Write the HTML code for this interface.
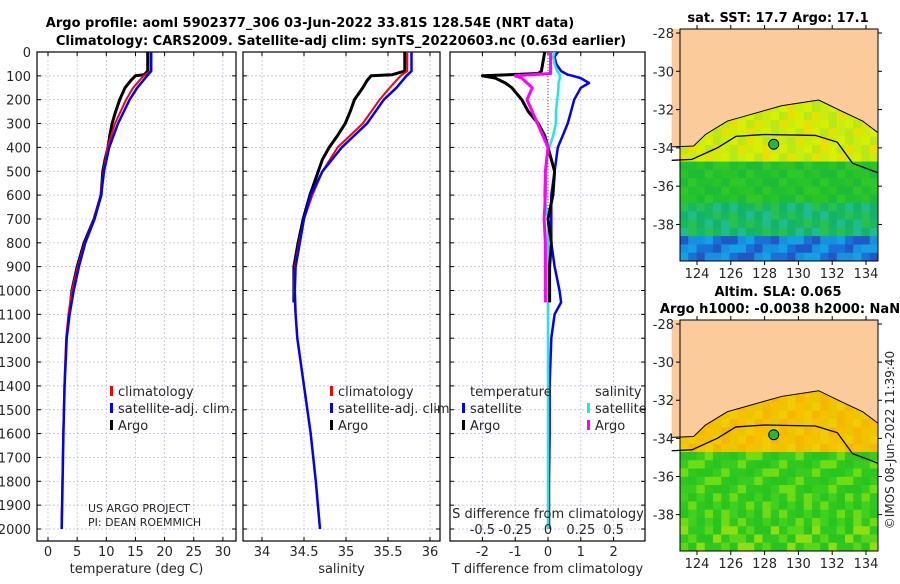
<!DOCTYPE html>
<html><head><meta charset="utf-8"><style>
body{margin:0;background:#fff;width:900px;height:580px;overflow:hidden;font-family:"DejaVu Sans","Liberation Sans",sans-serif}
svg text{font-family:"DejaVu Sans","Liberation Sans",sans-serif;fill:#262626}
</style></head><body>
<svg id="fig" width="900" height="580" xmlns="http://www.w3.org/2000/svg">
<text x="310" y="27" text-anchor="middle" font-size="13" font-weight="bold" style="fill:#000">Argo profile: aoml 5902377_306 03-Jun-2022 33.81S 128.54E (NRT data)</text>
<text x="341" y="45" text-anchor="middle" font-size="13" font-weight="bold" style="fill:#000">Climatology: CARS2009. Satellite-adj clim: synTS_20220603.nc (0.63d earlier)</text>
<g id="p1"></g>
<g id="p2"></g>
<g id="p3"></g>
<g id="m1"></g>
<g id="m2"></g>
<text x="778" y="22" text-anchor="middle" font-size="13" font-weight="bold" style="fill:#000">sat. SST: 17.7 Argo: 17.1</text>
<text x="778" y="296" text-anchor="middle" font-size="13" font-weight="bold" style="fill:#000">Altim. SLA: 0.065</text>
<text x="780" y="313" text-anchor="middle" font-size="13" font-weight="bold" style="fill:#000">Argo h1000: -0.0038 h2000: NaN</text>
<text transform="translate(894,440) rotate(-90)" text-anchor="middle" font-size="12">©IMOS 08-Jun-2022 11:39:40</text>
</svg>
<script>
// ---- data ----
const depthArgo=[0,80,95,100,120,150,200,250,300,350,400,450,500,600,700,800,900,1000,1050];
const tArgo=[17.1,17.1,16.5,15.0,14.2,13.2,12.3,11.6,11.0,10.6,10.3,9.8,9.4,9.1,7.9,6.2,5.0,4.1,3.9];
const sArgo=[35.7,35.7,35.55,35.3,35.25,35.2,35.1,35.05,34.99,34.9,34.8,34.72,34.67,34.57,34.49,34.43,34.38,34.38,34.38];
const depthClim=[0,80,100,150,200,300,400,500,600,700,800,900,1000,1100,1200,1400,1600,1800,2000];
const tClim=[17.6,17.6,16.4,14.6,13.4,11.5,10.2,9.5,9.0,7.9,6.3,5.1,4.1,3.5,3.1,2.8,2.6,2.45,2.3];
const sClim=[35.73,35.73,35.65,35.52,35.4,35.2,34.9,34.72,34.6,34.5,34.44,34.39,34.38,34.4,34.42,34.5,34.58,34.64,34.69];
const tSat=[17.7,17.7,17.0,15.3,14.0,12.0,10.5,9.6,9.1,8.0,6.4,5.3,4.4,3.7,3.2,2.85,2.65,2.5,2.35];
const sSat=[35.78,35.78,35.72,35.6,35.45,35.25,34.95,34.72,34.58,34.5,34.45,34.4,34.39,34.4,34.42,34.5,34.58,34.64,34.69];
const depthDiff=[0,20,50,80,95,100,110,130,150,200,250,300,350,400,450,500,600,700,800,900,1000,1050,1100,1200,1400,1600,1800,2000];
const dTSat=[0.3,0.2,0.25,0.4,0.6,0.75,1.0,1.25,1.0,0.8,0.7,0.6,0.45,0.3,0.25,0.2,0.1,0.1,0.1,0.2,0.35,0.4,0.2,0.1,0.05,0.05,0.03,0.03];
const dSSat=[0.05,0.04,0.05,0.07,0.09,0.09,0.09,0.08,0.08,0.07,0.06,0.06,0.04,0.01,-0.01,-0.02,-0.03,0,0,0,0,0,0,0,0,0,0,0];
const depthArgoDiff=[0,80,90,100,110,130,150,200,250,300,350,400,450,500,600,700,800,900,1000,1050];
const dTArgo=[-0.1,-0.2,-0.3,-2.0,-1.6,-1.3,-1.1,-0.8,-0.6,-0.3,-0.1,0,0.1,0.2,0.15,0,0.1,0.05,0.05,0.05];
const dSArgo=[0.02,0.02,0.02,-0.25,-0.2,-0.16,-0.12,-0.16,-0.12,-0.08,-0.04,0,-0.01,-0.02,-0.02,-0.03,-0.02,-0.02,-0.02,-0.02];
const depthTicks=[0,100,200,300,400,500,600,700,800,900,1000,1100,1200,1300,1400,1500,1600,1700,1800,1900,2000];
const tTicks=[0,5,10,15,20,25,30];
const sTicks=[34,34.5,35,35.5,36];
const dTTicks=[-2,-1,0,1,2];
const dSTicks=[-0.5,-0.25,0,0.25,0.5];
const latTicks=[-28,-30,-32,-34,-36,-38];
const lonTicks=[124,126,128,130,132,134];

const NS='http://www.w3.org/2000/svg';
function mk(parent,tag,attrs,txt){const e=document.createElementNS(NS,tag);for(const k in attrs)e.setAttribute(k,attrs[k]);if(txt!==undefined)e.textContent=txt;parent.appendChild(e);return e;}
const Y0=52,Y1=541;
const yD=d=>Y0+d*0.2385;
function panel(g,x0,x1,xs,xt,xlabels,xtitle,showY){
  mk(g,'rect',{x:x0,y:Y0,width:x1-x0,height:Y1-Y0,fill:'#fff'});
  depthTicks.forEach(d=>{const l=mk(g,'line',{x1:x0,x2:x1,y1:yD(d),y2:yD(d),stroke:'#b8b8e0','stroke-width':0.7,'stroke-dasharray':'2,2'});
    
    mk(g,'line',{x1:x0,x2:x0+4,y1:yD(d),y2:yD(d),stroke:'#000'});mk(g,'line',{x1:x1-4,x2:x1,y1:yD(d),y2:yD(d),stroke:'#000'});
    if(showY){const t=mk(g,'text',{x:x0-6,y:yD(d)+5,'text-anchor':'end','font-size':13},String(d));}});
  xt.forEach((v,i)=>{const x=xs(v);mk(g,'line',{x1:x,x2:x,y1:Y0,y2:Y1,stroke:'#b8b8e0','stroke-width':0.7,'stroke-dasharray':'2,2'});
    mk(g,'line',{x1:x,x2:x,y1:Y1,y2:Y1-4,stroke:'#000'});mk(g,'line',{x1:x,x2:x,y1:Y0,y2:Y0+4,stroke:'#000'});
    const t=mk(g,'text',{x:x,y:556,'text-anchor':'middle','font-size':13},xlabels[i]);});
  mk(g,'rect',{x:x0,y:Y0,width:x1-x0,height:Y1-Y0,fill:'none',stroke:'#000','stroke-width':1.2});
  const tt=mk(g,'text',{x:(x0+x1)/2,y:573,'text-anchor':'middle','font-size':13},xtitle);
  
}
function line(g,xs,vals,deps,color,w,name){
  const pts=vals.map((v,i)=>xs(v).toFixed(1)+','+yD(deps[i]).toFixed(1)).join(' ');
  const p=mk(g,'polyline',{points:pts,fill:'none',stroke:color,'stroke-width':w,'stroke-linejoin':'round'});
  
}
function legend(g,x,y,items){
  items.forEach((it,i)=>{
    if(it.c)mk(g,'rect',{x:x-8,y:y+i*17-10,width:3,height:10,fill:it.c});
    const t=mk(g,'text',{x:x,y:y+i*17,'font-size':13},it.t);
    });
}
// panel 1
const g1=document.getElementById('p1');
const xT=v=>48+v*5.83;
panel(g1,37,236,xT,tTicks,tTicks.map(String),'temperature (deg C)',true);
line(g1,xT,tArgo,depthArgo,'#000',3,'argo-temperature-line');
line(g1,xT,tClim,depthClim,'#f00',2,'climatology-temperature-line');
line(g1,xT,tSat,depthClim,'#00f',2.5,'satellite-temperature-line');
legend(g1,118,396,[{c:'#f00',t:'climatology'},{c:'#00f',t:'satellite-adj. clim.'},{c:'#000',t:'Argo'}]);
mk(g1,'text',{x:88,y:512,'font-size':11},'US ARGO PROJECT');
mk(g1,'text',{x:88,y:526,'font-size':11},'PI: DEAN ROEMMICH');
// panel 2
const g2=document.getElementById('p2');
const xS=v=>262+(v-34)*84;
panel(g2,243,440,xS,sTicks,['34','34.5','35','35.5','36'],'salinity',false);
line(g2,xS,sArgo,depthArgo,'#000',3,'argo-salinity-line');
line(g2,xS,sClim,depthClim,'#f00',2,'climatology-salinity-line');
line(g2,xS,sSat,depthClim,'#00f',2.5,'satellite-salinity-line');
legend(g2,338,396,[{c:'#f00',t:'climatology'},{c:'#00f',t:'satellite-adj. clim.'},{c:'#000',t:'Argo'}]);
// panel 3
const g3=document.getElementById('p3');
const xDT=v=>548+v*32.8;
const xDS=v=>548+v*4*32.8;
panel(g3,450,645,xDT,dTTicks,dTTicks.map(String),'T difference from climatology',false);
mk(g3,'line',{x1:548,x2:548,y1:Y0,y2:yD(1050),stroke:'#555','stroke-width':1,'stroke-dasharray':'1,2'});
line(g3,xDT,dTSat,depthDiff,'#00f',2.5,'satellite-temperature-diff-line');
line(g3,xDS,dSSat,depthDiff,'#22e5e5',2.5,'satellite-salinity-diff-line');
line(g3,xDT,dTArgo,depthArgoDiff,'#000',3,'argo-temperature-diff-line');
line(g3,xDS,dSArgo,depthArgoDiff,'#f0f',3,'argo-salinity-diff-line');
legend(g3,470,396,[{t:'temperature'},{c:'#00f',t:'satellite'},{c:'#000',t:'Argo'}]);
legend(g3,595,396,[{t:'salinity'},{c:'#22e5e5',t:'satellite'},{c:'#f0f',t:'Argo'}]);
mk(g3,'text',{x:548,y:518,'text-anchor':'middle','font-size':13},'S difference from climatology');
dSTicks.forEach(v=>{mk(g3,'text',{x:xDS(v),y:534,'text-anchor':'middle','font-size':13},String(v));});
// maps
function map(id,top,bot,palette){
  const g=document.getElementById(id),x0=680,x1=878;
  const lon=v=>697+(v-124)*16.9, lat=v=>top+4+(-28-v)*((bot-top-8)/11.7);
  mk(g,'rect',{x:x0,y:top,width:x1-x0,height:bot-top,fill:palette.bottom});
  const cw=(x1-x0)/24,ch=(bot-top)/28;
  for(let r=0;r<28;r++)for(let c=0;c<24;c++){
    const la=-28-(r+0.5)*(11.7/28);
    const f=(la+34.5)/-5.5;let col;
    if(la>-34.5) col=palette.coast[((r*3+c*5)>>2)%palette.coast.length];
    else if(f<0.45) col=palette.mid[((r*5+c*3)>>2)%palette.mid.length];
    else if(f<0.75) col=palette.deep[((r*3+c*7)>>2)%palette.deep.length];
    else col=palette.far[((r*5+c*3)>>2)%palette.far.length];
    mk(g,'rect',{x:x0+c*cw,y:top+r*ch,width:cw+0.5,height:ch+0.5,fill:col});
  }
  const land=[[122.5,-27.79],[134.7,-27.79],[134.7,-33.2],[133.8,-32.6],[132.6,-32.1],[131.2,-31.5],[129,-31.8],[127,-32.3],[125.8,-32.6],[124.5,-33.3],[123.8,-33.9],[122.5,-33.95]];
  const p=mk(g,'polygon',{points:land.map(q=>lon(q[0])+','+lat(q[1])).join(' '),fill:'#fbcb9b',stroke:'none'});
  
  mk(g,'polyline',{points:land.slice(2).map(q=>lon(q[0])+','+lat(q[1])).join(' '),fill:'none',stroke:'#000','stroke-width':1});
  const iso=[[122.5,-34.65],[123.7,-34.6],[125.2,-34],[126.3,-33.4],[128,-33.3],[131,-33.35],[132.3,-33.7],[133.2,-34.8],[134.7,-35.3]];
  mk(g,'polyline',{points:iso.map(q=>lon(q[0])+','+lat(q[1])).join(' '),fill:'none',stroke:'#000','stroke-width':1.3});
  const dot=mk(g,'circle',{cx:lon(128.54),cy:lat(-33.81),r:5,fill:'#22bb33',stroke:'#000','stroke-width':1});
  
  mk(g,'rect',{x:x0,y:top,width:x1-x0,height:bot-top,fill:'none',stroke:'#000','stroke-width':1});
  latTicks.forEach(v=>{const y=lat(v);mk(g,'line',{x1:x0,x2:x0-4,y1:y,y2:y,stroke:'#000'});mk(g,'line',{x1:x1,x2:x1+4,y1:y,y2:y,stroke:'#000'});
    mk(g,'text',{x:x0-6,y:y+5,'text-anchor':'end','font-size':13},String(v));});
  lonTicks.forEach(v=>{const x=lon(v);mk(g,'line',{x1:x,x2:x,y1:top,y2:top-4,stroke:'#000'});mk(g,'line',{x1:x,x2:x,y1:bot,y2:bot+4,stroke:'#000'});
    mk(g,'text',{x:x,y:bot+17,'text-anchor':'middle','font-size':13},String(v));});
}
map('m1',29,261,{bottom:'#1060d0',coast:['#c8ee10','#d8f000','#b8e818','#e8e000'],mid:['#20c030','#28c428','#1cbc38','#30c828'],deep:['#14b468','#18b860','#20bc90','#28c050'],far:['#1890e0','#14a0e4','#1870d8','#2058c8']});
map('m2',320,551,{bottom:'#40d020',coast:['#f4b800','#f8c000','#ecc400','#f0cc00'],mid:['#28c420','#38cc20','#70dc14','#30c820'],deep:['#30c820','#28c420','#70da14','#40d020'],far:['#30c820','#58d618','#28c420','#90de12']});
</script>
</body></html>
